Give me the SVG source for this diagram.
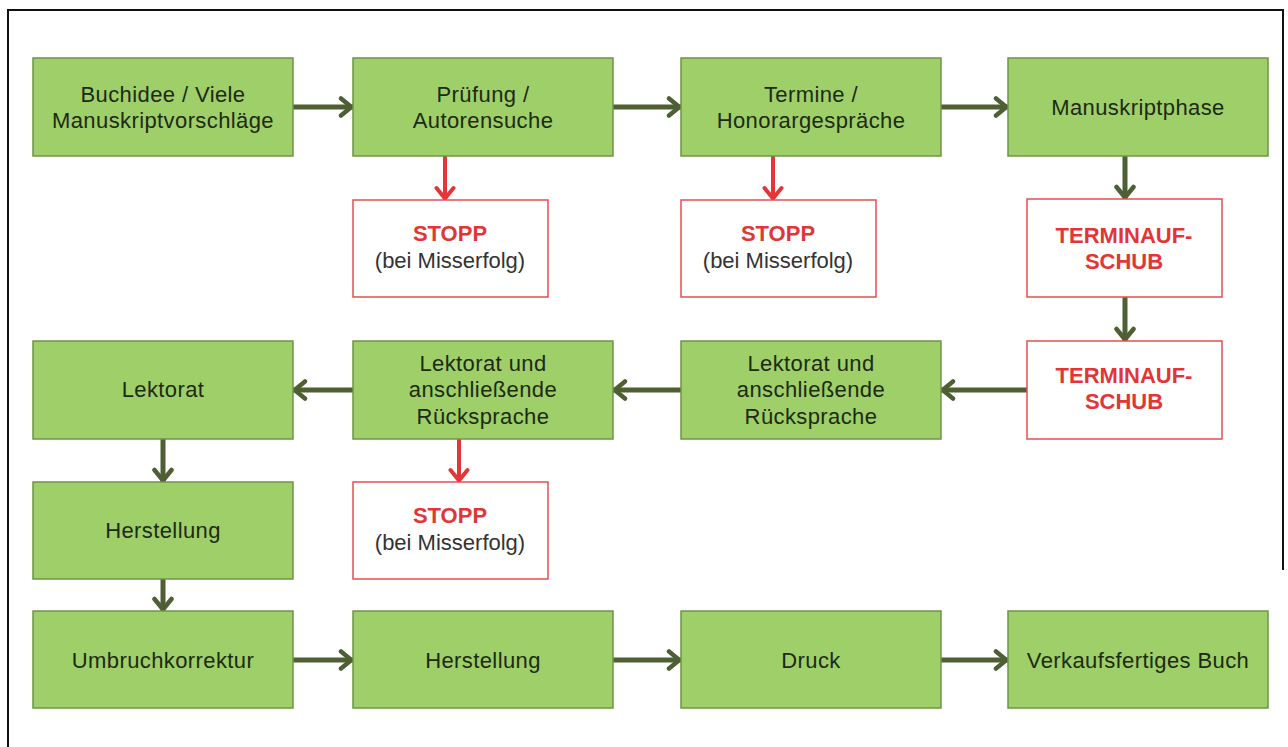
<svg xmlns="http://www.w3.org/2000/svg" width="1288" height="747" viewBox="0 0 1288 747">
<style>
.g{fill:#9fcf69;stroke:#6f9448;stroke-width:1.5}
.r{fill:#ffffff;stroke:#e2504f;stroke-width:1.5}
.t{font-family:"Liberation Sans",Arial,sans-serif;font-size:22px;fill:#1d2a12;text-anchor:middle;letter-spacing:0.4px}
.s{font-family:"Liberation Sans",Arial,sans-serif;font-size:22px;font-weight:bold;fill:#e23535;text-anchor:middle}
.m{font-family:"Liberation Sans",Arial,sans-serif;font-size:22px;fill:#333333;text-anchor:middle}
.ag{stroke:#4e5f33;stroke-width:5;fill:none;marker-end:url(#hg)}
.ar{stroke:#e53535;stroke-width:4;fill:none;marker-end:url(#hr)}
</style>
<defs>
<marker id="hg" viewBox="0 0 16 22" refX="15" refY="11" markerWidth="16" markerHeight="22" markerUnits="userSpaceOnUse" orient="auto">
<path d="M3,2.5 L13.5,11 L3,19.5" fill="none" stroke="#4e5f33" stroke-width="4.5" stroke-linejoin="miter" stroke-linecap="round"/>
</marker>
<marker id="hr" viewBox="0 0 16 22" refX="15" refY="11" markerWidth="16" markerHeight="22" markerUnits="userSpaceOnUse" orient="auto">
<path d="M3,2.5 L13.5,11 L3,19.5" fill="none" stroke="#e53535" stroke-width="4" stroke-linejoin="miter" stroke-linecap="round"/>
</marker>
</defs>
<rect x="0" y="0" width="1288" height="747" fill="#ffffff"/>
<path d="M8,747 L8,10 L1283,10 L1283,570" fill="none" stroke="#111111" stroke-width="2"/>

<g id="connectors">
<line class="ag" x1="293" y1="107" x2="353" y2="107"/>
<line class="ag" x1="613" y1="107" x2="681" y2="107"/>
<line class="ag" x1="941" y1="107" x2="1008" y2="107"/>
<line class="ar" x1="445" y1="156" x2="445" y2="200"/>
<line class="ar" x1="773" y1="156" x2="773" y2="200"/>
<line class="ag" x1="1125" y1="156" x2="1125" y2="199"/>
<line class="ag" x1="1125" y1="297" x2="1125" y2="341"/>
<line class="ag" x1="1027" y1="390" x2="941" y2="390"/>
<line class="ag" x1="681" y1="390" x2="613" y2="390"/>
<line class="ag" x1="353" y1="390" x2="293" y2="390"/>
<line class="ar" x1="459" y1="439" x2="459" y2="482"/>
<line class="ag" x1="163" y1="439" x2="163" y2="482"/>
<line class="ag" x1="163" y1="579" x2="163" y2="611"/>
<line class="ag" x1="293" y1="660" x2="353" y2="660"/>
<line class="ag" x1="613" y1="660" x2="681" y2="660"/>
<line class="ag" x1="941" y1="660" x2="1008" y2="660"/>
</g>

<g id="n1"><rect class="g" x="33" y="58" width="260" height="98"/>
<text class="t" x="163" y="102">Buchidee / Viele</text><text class="t" x="163" y="128">Manuskriptvorschläge</text></g>
<g id="n2"><rect class="g" x="353" y="58" width="260" height="98"/>
<text class="t" x="483" y="102">Prüfung /</text><text class="t" x="483" y="128">Autorensuche</text></g>
<g id="n3"><rect class="g" x="681" y="58" width="260" height="98"/>
<text class="t" x="811" y="102">Termine /</text><text class="t" x="811" y="128">Honorargespräche</text></g>
<g id="n4"><rect class="g" x="1008" y="58" width="260" height="98"/>
<text class="t" x="1138" y="115">Manuskriptphase</text></g>

<g id="stop1"><rect class="r" x="353" y="200" width="195" height="97"/>
<text class="s" x="450" y="241">STOPP</text><text class="m" x="450" y="268">(bei Misserfolg)</text></g>
<g id="stop2"><rect class="r" x="681" y="200" width="195" height="97"/>
<text class="s" x="778" y="241">STOPP</text><text class="m" x="778" y="268">(bei Misserfolg)</text></g>
<g id="aufschub1"><rect class="r" x="1027" y="199" width="195" height="98"/>
<text class="s" x="1124" y="243">TERMINAUF-</text><text class="s" x="1124" y="269">SCHUB</text></g>

<g id="n5"><rect class="g" x="33" y="341" width="260" height="98"/>
<text class="t" x="163" y="397">Lektorat</text></g>
<g id="n6"><rect class="g" x="353" y="341" width="260" height="98"/>
<text class="t" x="483" y="371">Lektorat und</text><text class="t" x="483" y="397">anschließende</text><text class="t" x="483" y="424">Rücksprache</text></g>
<g id="n7"><rect class="g" x="681" y="341" width="260" height="98"/>
<text class="t" x="811" y="371">Lektorat und</text><text class="t" x="811" y="397">anschließende</text><text class="t" x="811" y="424">Rücksprache</text></g>
<g id="aufschub2"><rect class="r" x="1027" y="341" width="195" height="98"/>
<text class="s" x="1124" y="383">TERMINAUF-</text><text class="s" x="1124" y="409">SCHUB</text></g>

<g id="n8"><rect class="g" x="33" y="482" width="260" height="97"/>
<text class="t" x="163" y="538">Herstellung</text></g>
<g id="stop3"><rect class="r" x="353" y="482" width="195" height="97"/>
<text class="s" x="450" y="523">STOPP</text><text class="m" x="450" y="550">(bei Misserfolg)</text></g>

<g id="n9"><rect class="g" x="33" y="611" width="260" height="97"/>
<text class="t" x="163" y="668">Umbruchkorrektur</text></g>
<g id="n10"><rect class="g" x="353" y="611" width="260" height="97"/>
<text class="t" x="483" y="668">Herstellung</text></g>
<g id="n11"><rect class="g" x="681" y="611" width="260" height="97"/>
<text class="t" x="811" y="668">Druck</text></g>
<g id="n12"><rect class="g" x="1008" y="611" width="260" height="97"/>
<text class="t" x="1138" y="668">Verkaufsfertiges Buch</text></g>
</svg>
